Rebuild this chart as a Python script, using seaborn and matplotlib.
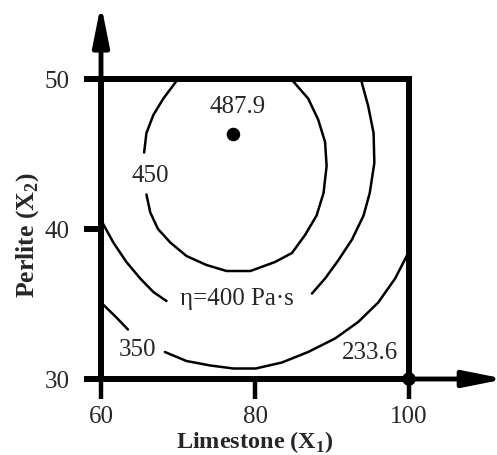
import pandas as pd
import matplotlib.pyplot as plt
import seaborn as sns

sns.set_style("white")
plt.rcParams['font.family'] = ['Liberation Serif', 'DejaVu Serif']
plt.rcParams['mathtext.fontset'] = 'custom'
plt.rcParams['mathtext.rm'] = 'Liberation Serif'
plt.rcParams['mathtext.bf'] = 'Liberation Serif:bold'

# contour lines (Limestone X1, Perlite X2), split where the labels sit
c450_a_x = [70.0, 68.1, 66.8, 65.9, 65.6]
c450_a_y = [50.0, 48.7, 47.6, 46.4, 45.1]
c450_b_x = [65.9, 66.4, 67.4, 69.0, 71.1, 73.7, 76.3, 79.4, 82.6, 84.8, 86.5, 88.0,
            88.9, 89.3, 89.1, 88.2, 86.9, 85.2, 84.7]
c450_b_y = [42.3, 41.1, 40.0, 39.1, 38.2, 37.6, 37.2, 37.2, 37.8, 38.4, 39.6, 40.9,
            42.4, 44.2, 45.8, 47.3, 48.7, 49.7, 50.0]

c400_a_x = [60.0, 61.6, 63.3, 65.1, 66.8, 68.5]
c400_a_y = [40.6, 39.1, 37.8, 36.7, 35.8, 35.2]
c400_b_x = [87.4, 89.1, 90.8, 92.6, 94.1, 94.9, 95.5, 95.4, 94.7, 93.9, 93.8]
c400_b_y = [35.7, 36.7, 37.9, 39.3, 40.9, 42.4, 44.4, 46.4, 48.2, 49.7, 50.0]

c350_a_x = [60.0, 62.0, 63.5]
c350_a_y = [35.1, 34.1, 33.3]
c350_b_x = [68.3, 71.1, 74.2, 77.2, 80.1, 83.5, 86.9, 90.4, 93.4, 96.0, 98.2, 99.7, 100.0]
c350_b_y = [31.8, 31.2, 30.9, 30.7, 30.7, 31.1, 31.8, 32.7, 33.8, 35.1, 36.7, 38.2, 38.5]

# extreme points
ext_x = [77.2, 100.0]
ext_y = [46.3, 30.0]
ext_labels = ["487.9", "233.6"]
ext_lab_x = [77.8, 94.9]
ext_lab_y = [48.2, 31.8]

# contour labels
lab_text = ["450", "\u03b7=400 Pa\u00b7s", "350"]
lab_x = [66.4, 77.7, 64.8]
lab_y = [43.6, 35.4, 32.0]

x_ticks = [60, 80, 100]
y_ticks = [30, 40, 50]

segments = {
    '450a': (c450_a_x, c450_a_y), '450b': (c450_b_x, c450_b_y),
    '400a': (c400_a_x, c400_a_y), '400b': (c400_b_x, c400_b_y),
    '350a': (c350_a_x, c350_a_y), '350b': (c350_b_x, c350_b_y),
}
rows = []
for name, (xs, ys) in segments.items():
    for x, y in zip(xs, ys):
        rows.append((name, x, y))
df = pd.DataFrame(rows, columns=['seg', 'x1', 'x2'])

fig = plt.figure(figsize=(4.97, 4.56), dpi=100)
ax = fig.add_axes([101 / 497, 76 / 456, 308 / 497, 300 / 456])

sns.lineplot(data=df, x='x1', y='x2', units='seg', estimator=None, sort=False,
             color='black', lw=1.8, ax=ax)
sns.scatterplot(x=ext_x, y=ext_y, color='black', s=95, edgecolor='none',
                zorder=6, clip_on=False, ax=ax)

for t, x, y in zip(ext_labels, ext_lab_x, ext_lab_y):
    ax.text(x, y, t, fontsize=18, ha='center', va='center')
for t, x, y in zip(lab_text, lab_x, lab_y):
    ax.text(x, y, t, fontsize=18, ha='center', va='center')

ax.set_xlim(60, 100)
ax.set_ylim(30, 50)
ax.set_xticks(x_ticks)
ax.set_yticks(y_ticks)
for s in ax.spines.values():
    s.set_linewidth(4.3)
    s.set_color('black')
ax.tick_params(axis='x', bottom=True, direction='out', length=14.5, width=3.2, pad=4,
               labelsize=18, color='black')
ax.tick_params(axis='y', left=True, direction='out', length=12.5, width=4.3, pad=10,
               labelsize=18, color='black')

# axis arrows
arrow = dict(arrowstyle='-|>,head_length=0.9,head_width=0.18', lw=3.5, color='black',
             mutation_scale=27, shrinkA=0, shrinkB=0)
ax.annotate('', xy=(60, 55.0), xytext=(60, 49.9), arrowprops=arrow, annotation_clip=False)
ax.annotate('', xy=(112.5, 30), xytext=(99.9, 30), arrowprops=arrow, annotation_clip=False)

ax.set_xlabel('Limestone (X$_\\mathbf{1}$)', fontsize=17.5, fontweight='bold', va='center')
ax.xaxis.set_label_coords(0.5, -0.207)
ax.set_ylabel('Perlite (X$_\\mathbf{2}$)', fontsize=18.5, fontweight='bold', va='center')
ax.yaxis.set_label_coords(-0.24, 0.483)

fig.savefig('out.png', dpi=100)
